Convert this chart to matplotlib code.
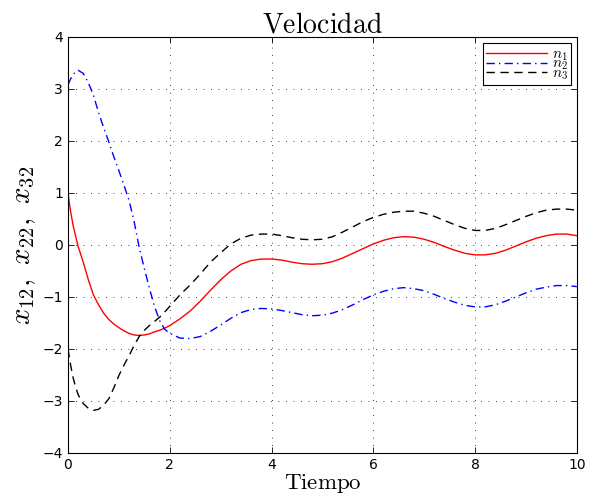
import matplotlib
matplotlib.use("Agg")
import matplotlib.pyplot as plt

plt.rcParams['mathtext.fontset'] = 'cm'
plt.rcParams['font.family'] = ['DejaVu Sans']

t = [0.0, 0.05, 0.1, 0.15, 0.2, 0.3, 0.4, 0.5, 0.6, 0.7, 0.8, 0.9, 1.0, 1.1, 1.2, 1.3,
     1.4, 1.5, 1.6, 1.7, 1.8, 1.9,
     2.0, 2.2, 2.4, 2.6, 2.8, 3.0, 3.2, 3.4, 3.6, 3.8,
     4.0, 4.2, 4.4, 4.6, 4.8, 5.0, 5.2, 5.4, 5.6, 5.8,
     6.0, 6.2, 6.4, 6.6, 6.8, 7.0, 7.2, 7.4, 7.6, 7.8,
     8.0, 8.2, 8.4, 8.6, 8.8, 9.0, 9.2, 9.4, 9.6, 9.8, 10.0]

n1 = [1.0, 0.65, 0.38, 0.17, -0.03, -0.33, -0.67, -0.96, -1.15, -1.31, -1.43, -1.52, -1.59,
      -1.65, -1.70, -1.73, -1.74, -1.73, -1.71, -1.67, -1.64, -1.60,
      -1.55, -1.42, -1.27, -1.08, -0.87, -0.67, -0.50, -0.37, -0.30, -0.27,
      -0.27, -0.29, -0.33, -0.36, -0.37, -0.36, -0.32, -0.25, -0.16, -0.07,
      0.02, 0.09, 0.14, 0.16, 0.15, 0.11, 0.05, -0.03, -0.10, -0.16,
      -0.19, -0.19, -0.16, -0.10, -0.02, 0.06, 0.13, 0.18, 0.21, 0.21, 0.18]

n2 = [3.08, 3.19, 3.28, 3.33, 3.36, 3.30, 3.12, 2.88, 2.55, 2.26, 1.99, 1.70, 1.43,
      1.15, 0.86, 0.45, -0.05, -0.45, -0.83, -1.18, -1.45, -1.62,
      -1.70, -1.79, -1.80, -1.76, -1.66, -1.54, -1.41, -1.30, -1.24, -1.22,
      -1.23, -1.26, -1.30, -1.34, -1.36, -1.35, -1.31, -1.24, -1.15, -1.05,
      -0.96, -0.89, -0.84, -0.82, -0.84, -0.88, -0.95, -1.03, -1.10, -1.16,
      -1.19, -1.19, -1.15, -1.08, -1.00, -0.92, -0.85, -0.81, -0.78, -0.78, -0.80]

n3 = [-2.0, -2.3, -2.55, -2.73, -2.88, -3.05, -3.14, -3.18, -3.16, -3.08, -2.96, -2.75, -2.51,
      -2.31, -2.13, -1.93, -1.76, -1.64, -1.55, -1.47, -1.39, -1.29,
      -1.18, -0.96, -0.77, -0.56, -0.33, -0.15, 0.02, 0.13, 0.19, 0.21,
      0.21, 0.18, 0.14, 0.11, 0.10, 0.11, 0.16, 0.25, 0.35, 0.45,
      0.53, 0.59, 0.63, 0.65, 0.65, 0.61, 0.55, 0.47, 0.39, 0.32,
      0.28, 0.28, 0.32, 0.39, 0.47, 0.55, 0.62, 0.67, 0.69, 0.69, 0.67]

labels = [r'$n_1$', r'$n_2$', r'$n_3$']
xticks = [0, 2, 4, 6, 8, 10]
yticks = [-4, -3, -2, -1, 0, 1, 2, 3, 4]

fig = plt.figure(figsize=(5.99, 5.04), dpi=100)
ax = fig.add_axes([0.1135, 0.1012, 0.8495, 0.8254])

ax.plot(t, n1, color='red', lw=1.0, label=labels[0])
ax.plot(t, n2, color='blue', lw=1.0, linestyle=(0, (6, 3, 1, 3)), label=labels[1])
ax.plot(t, n3, color='black', lw=1.0, linestyle=(0, (6, 4)), label=labels[2])

ax.set_xlim(0, 10)
ax.set_ylim(-4, 4)
ax.set_xticks(xticks)
ax.set_yticks(yticks)
ax.tick_params(direction='in', top=True, right=True, labelsize=10, length=4, width=0.6)
ax.grid(True, linestyle=(0, (1, 8)), color='black', lw=0.6)
for s in ax.spines.values():
    s.set_linewidth(0.8)

ax.set_title(r'$\mathrm{Velocidad}$', fontsize=20, pad=3)
ax.set_xlabel(r'$\mathrm{Tiempo}$', fontsize=16.5, labelpad=0)
ax.set_ylabel(r'$x_{12},\ x_{22},\ x_{32}$', fontsize=21, labelpad=3)

leg = ax.legend(loc='upper right', fontsize=11, frameon=True, fancybox=False,
                edgecolor='black', framealpha=1, handlelength=4.0,
                borderpad=0.2, labelspacing=-0.45, handletextpad=0.3,
                borderaxespad=0.4)
leg.get_frame().set_linewidth(0.8)

fig.savefig('out.png', dpi=100)
